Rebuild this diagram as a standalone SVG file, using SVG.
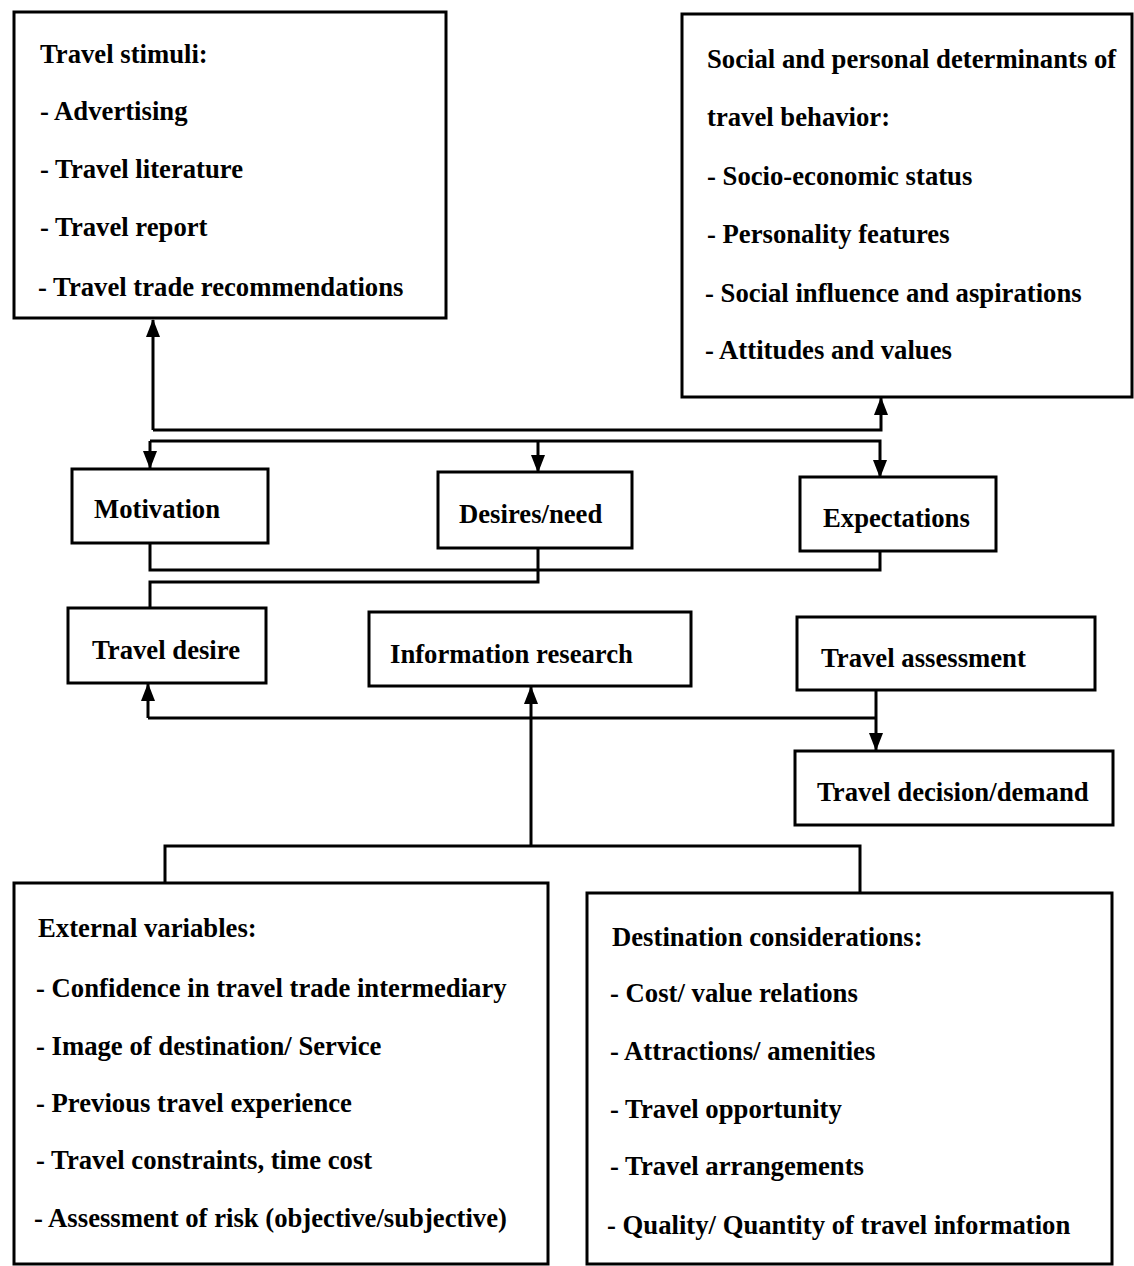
<svg xmlns="http://www.w3.org/2000/svg" width="1134" height="1266" viewBox="0 0 1134 1266">
  <style>
    .box { fill: #fff; stroke: #000; stroke-width: 3; }
    .lbl { font-family: "Liberation Serif", "Times New Roman", serif; font-weight: bold; font-size: 26.7px; fill: #000; }
    .wire { fill: none; stroke: #000; stroke-width: 3; stroke-linejoin: miter; }
  </style>
  <defs>
    <marker id="arrow" viewBox="0 0 18 14" refX="17" refY="7" markerWidth="18" markerHeight="14" markerUnits="userSpaceOnUse" orient="auto">
      <path d="M0,0 L18,7 L0,14 z" fill="#000"/>
    </marker>
  </defs>
  <rect width="1134" height="1266" fill="#fff"/>

  <!-- connectors -->
  <g id="connectors">
    <path class="wire" d="M153,430 V320" marker-end="url(#arrow)"/>
    <path class="wire" d="M153,430 H881 V398" marker-end="url(#arrow)"/>
    <path class="wire" d="M150,441 H880 V477" marker-end="url(#arrow)"/>
    <path class="wire" d="M150,441 V468" marker-end="url(#arrow)"/>
    <path class="wire" d="M538,441 V472" marker-end="url(#arrow)"/>
    <path class="wire" d="M150,543 V570 H880 V551"/>
    <path class="wire" d="M538,548 V582 H150 V608"/>
    <path class="wire" d="M148,718 V684" marker-end="url(#arrow)"/>
    <path class="wire" d="M148,718 H876"/>
    <path class="wire" d="M876,690 V750" marker-end="url(#arrow)"/>
    <path class="wire" d="M531,846 V687" marker-end="url(#arrow)"/>
    <path class="wire" d="M165,883 V846 H860 V893"/>
  </g>

  <!-- travel stimuli -->
  <g id="stimuli">
    <rect class="box" x="14" y="12" width="432" height="306"/>
    <text class="lbl" x="40" y="63">Travel stimuli:</text>
    <text class="lbl" x="40" y="120">- Advertising</text>
    <text class="lbl" x="40" y="178">- Travel literature</text>
    <text class="lbl" x="40" y="236">- Travel report</text>
    <text class="lbl" x="38" y="296">- Travel trade recommendations</text>
  </g>

  <!-- social and personal determinants -->
  <g id="determinants">
    <rect class="box" x="682" y="14" width="450" height="383"/>
    <text class="lbl" x="707" y="68">Social and personal determinants of</text>
    <text class="lbl" x="707" y="126">travel behavior:</text>
    <text class="lbl" x="707" y="185">- Socio-economic status</text>
    <text class="lbl" x="707" y="243">- Personality features</text>
    <text class="lbl" x="705" y="302">- Social influence and aspirations</text>
    <text class="lbl" x="705" y="359">- Attitudes and values</text>
  </g>

  <g id="motivation">
    <rect class="box" x="72" y="469" width="196" height="74"/>
    <text class="lbl" x="94" y="518">Motivation</text>
  </g>
  <g id="desires">
    <rect class="box" x="438" y="472" width="194" height="76"/>
    <text class="lbl" x="459" y="523">Desires/need</text>
  </g>
  <g id="expectations">
    <rect class="box" x="800" y="477" width="196" height="74"/>
    <text class="lbl" x="823" y="527">Expectations</text>
  </g>
  <g id="travel-desire">
    <rect class="box" x="68" y="608" width="198" height="75"/>
    <text class="lbl" x="92" y="659">Travel desire</text>
  </g>
  <g id="information-research">
    <rect class="box" x="369" y="612" width="322" height="74"/>
    <text class="lbl" x="390" y="663">Information research</text>
  </g>
  <g id="travel-assessment">
    <rect class="box" x="797" y="617" width="298" height="73"/>
    <text class="lbl" x="821" y="667">Travel assessment</text>
  </g>
  <g id="travel-decision">
    <rect class="box" x="795" y="751" width="318" height="74"/>
    <text class="lbl" x="817" y="801">Travel decision/demand</text>
  </g>

  <!-- external variables -->
  <g id="external">
    <rect class="box" x="14" y="883" width="534" height="381"/>
    <text class="lbl" x="38" y="937">External variables:</text>
    <text class="lbl" x="36" y="997">- Confidence in travel trade intermediary</text>
    <text class="lbl" x="36" y="1055">- Image of destination/ Service</text>
    <text class="lbl" x="36" y="1112">- Previous travel experience</text>
    <text class="lbl" x="36" y="1169">- Travel constraints, time cost</text>
    <text class="lbl" x="34" y="1227">- Assessment of risk (objective/subjective)</text>
  </g>

  <!-- destination considerations -->
  <g id="destination">
    <rect class="box" x="587" y="893" width="525" height="371"/>
    <text class="lbl" x="612" y="946">Destination considerations:</text>
    <text class="lbl" x="610" y="1002">- Cost/ value relations</text>
    <text class="lbl" x="610" y="1060">- Attractions/ amenities</text>
    <text class="lbl" x="610" y="1118">- Travel opportunity</text>
    <text class="lbl" x="610" y="1175">- Travel arrangements</text>
    <text class="lbl" x="607" y="1234">- Quality/ Quantity of travel information</text>
  </g>
</svg>
